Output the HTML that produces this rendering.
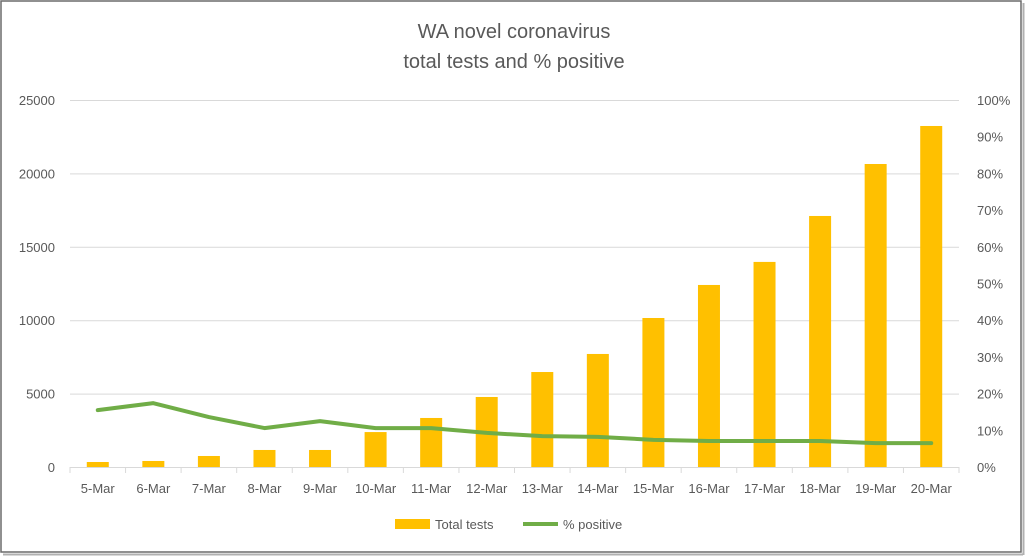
<!DOCTYPE html>
<html><head><meta charset="utf-8"><style>
body{margin:0;background:#fff;}
svg{display:block;font-family:"Liberation Sans",sans-serif;}
</style></head><body>
<svg id="c" width="1028" height="558">
<rect x="1" y="1" width="1020" height="551" fill="#fff" stroke="#6b6b6b" stroke-width="1.5"/>
<line x1="3" y1="554.5" x2="1023" y2="554.5" stroke="#b0b0b0" stroke-width="2"/>
<line x1="1023.5" y1="3" x2="1023.5" y2="555" stroke="#b0b0b0" stroke-width="2"/>
<text x="514" y="38" text-anchor="middle" font-size="20" fill="#595959">WA novel coronavirus</text>
<text x="514" y="68" text-anchor="middle" font-size="20" fill="#595959">total tests and % positive</text>
<g id="grid"></g><g id="bars"></g><g id="line"></g><g id="axes"></g>
<g>
<rect x="395" y="519" width="35" height="10" fill="#ffc000"/>
<text x="435" y="529" font-size="13" fill="#595959">Total tests</text>
<line x1="523" y1="524" x2="558" y2="524" stroke="#70ad47" stroke-width="4"/>
<text x="563" y="529" font-size="13" fill="#595959">% positive</text>
</g>
</svg>
<script>
const categories=["5-Mar","6-Mar","7-Mar","8-Mar","9-Mar","10-Mar","11-Mar","12-Mar","13-Mar","14-Mar","15-Mar","16-Mar","17-Mar","18-Mar","19-Mar","20-Mar"];
const totalTests=[340,410,750,1160,1160,2380,3340,4770,6470,7700,10150,12400,13970,17100,20640,23230];
const pctPositive=[15.5,17.4,13.6,10.6,12.5,10.6,10.6,9.3,8.4,8.2,7.4,7.1,7.1,7.1,6.5,6.5];
const leftTicks=[0,5000,10000,15000,20000,25000];
const rightTicks=[0,10,20,30,40,50,60,70,80,90,100];
const NS="http://www.w3.org/2000/svg";
const X0=70,X1=959,Y0=467,Y1=100;
const band=(X1-X0)/categories.length;
const xc=i=>X0+band*(i+0.5);
const yL=v=>Y0-(v/25000)*(Y0-Y1);
const yR=v=>Y0-(v/100)*(Y0-Y1);
function mk(t,a,p){const e=document.createElementNS(NS,t);for(const k in a)e.setAttribute(k,a[k]);p.appendChild(e);return e;}
const G=document.getElementById('grid'),B=document.getElementById('bars'),L=document.getElementById('line'),A=document.getElementById('axes');
leftTicks.forEach(v=>{
 if(v>0){const g=mk('line',{x1:X0,x2:X1,y1:yL(v)+0.5,y2:yL(v)+0.5,stroke:'#d9d9d9'},G);
 
 }
 const t=mk('text',{x:55,y:yL(v)+5,'text-anchor':'end','font-size':13,fill:'#595959'},A);t.textContent=v;
 
 
});
rightTicks.forEach(v=>{
 const t=mk('text',{x:977,y:yR(v)+5,'font-size':13,fill:'#595959'},A);t.textContent=v+'%';
 
 
});
totalTests.forEach((v,i)=>{
 const r=mk('rect',{x:xc(i)-11,y:yL(v),width:22,height:Y0-yL(v),fill:'#ffc000'},B);
 
 
});
const pl=mk('polyline',{points:pctPositive.map((v,i)=>xc(i)+','+yR(v)).join(' '),fill:'none',stroke:'#70ad47','stroke-width':4,'stroke-linejoin':'round','stroke-linecap':'round'},L);


const ax=mk('line',{x1:X0,x2:X1,y1:Y0+0.5,y2:Y0+0.5,stroke:'#d9d9d9'},A);


for(let i=0;i<=categories.length;i++){
 const tk=mk('line',{x1:X0+band*i,x2:X0+band*i,y1:Y0,y2:Y0+6,stroke:'#d9d9d9'},A);
 
 
}
categories.forEach((c,i)=>{
 const t=mk('text',{x:xc(i),y:493,'text-anchor':'middle','font-size':13,fill:'#595959'},A);t.textContent=c;
 
 
});
</script>
</body></html>
